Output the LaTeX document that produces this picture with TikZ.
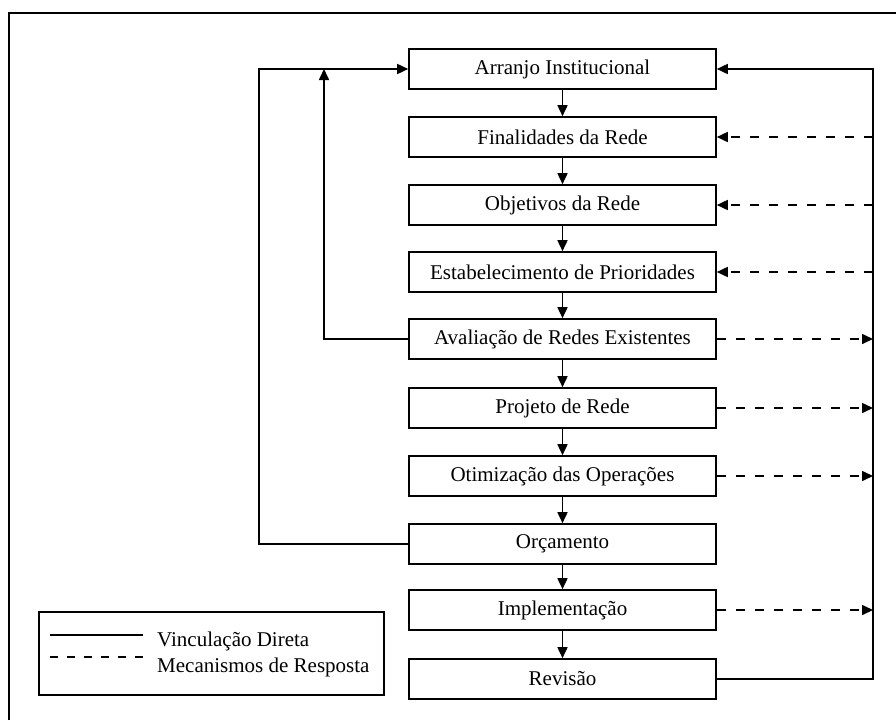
\documentclass[tikz,border=0pt]{standalone}
\usepackage{fontspec}
\setmainfont{Liberation Serif}
\usetikzlibrary{arrows.meta}
\tikzset{
  stage/.style={draw, line width=1.6pt, minimum width=307pt, minimum height=40pt, inner sep=0pt,
    font=\fontsize{21}{23}\selectfont},
  link/.style={line width=1.6pt, -{Triangle[length=11pt,width=10pt]}},
  plain/.style={line width=1.6pt},
  fb/.style={line width=1.6pt, dash pattern=on 9pt off 10pt, -{Triangle[length=11pt,width=10pt]}},
  legtext/.style={anchor=base west, inner sep=0pt, font=\fontsize{21}{23}\selectfont},
}
\begin{document}
\begin{tikzpicture}[x=1pt,y=-1pt]
\useasboundingbox (0,0) rectangle (896,720);
% outer frame (cut by page edges)
\draw[line width=2.5pt] (9,720) -- (9,13) -- (896,13);

\node[stage] (a) at (562.5,69) {Arranjo Institucional};
\node[stage] (b) at (562.5,137) {Finalidades da Rede};
\node[stage] (c) at (562.5,205) {Objetivos da Rede};
\node[stage] (d) at (562.5,272) {Estabelecimento de Prioridades};
\node[stage] (e) at (562.5,339) {Avaliação de Redes Existentes};
\node[stage] (f) at (562.5,408) {Projeto de Rede};
\node[stage] (g) at (562.5,476) {Otimização das Operações};
\node[stage] (h) at (562.5,544) {Orçamento};
\node[stage] (i) at (562.5,610) {Implementação};
\node[stage] (j) at (562.5,679) {Revisão};

\foreach \u/\v in {a/b,b/c,c/d,d/e,e/f,f/g,g/h,h/i,i/j}
  \draw[link] (\u) -- (\v);

% right feedback bus
\coordinate (rt) at (873,69);
\coordinate (rb) at (873,679);
\draw[link] (j.east) -- (rb) -- (rt) -- (a.east);

% left loops
\coordinate (lo1) at (259,544);
\coordinate (lo2) at (259,69);
\draw[link] (h.west) -- (lo1) -- (lo2) -- (a.west);
\coordinate (li1) at (324,339);
\coordinate (li2) at (324,69);
\draw[link] (e.west) -- (li1) -- (li2);

% dashed response mechanisms
\foreach \n in {b,c,d}
  \draw[fb] (\n.east -| rt) -- (\n.east);
\foreach \n in {e,f,g,i}
  \draw[fb] (\n.east) -- (\n.east -| rt);

% legend
\node[draw, line width=1.6pt, minimum width=345pt, minimum height=83pt, inner sep=0pt] (leg) at (211.5,653.5) {};
\coordinate (s1) at (50,635);
\coordinate (s2) at (143,635);
\draw[plain] (s1) -- (s2);
\coordinate (d1) at (50,657);
\coordinate (d2) at (143,657);
\draw[plain, dash pattern=on 8pt off 9pt] (d1) -- (d2);
\node[legtext] (t1) at (157,646) {Vinculação Direta};
\node[legtext] (t2) at (157,672) {Mecanismos de Resposta};
\end{tikzpicture}
\end{document}
